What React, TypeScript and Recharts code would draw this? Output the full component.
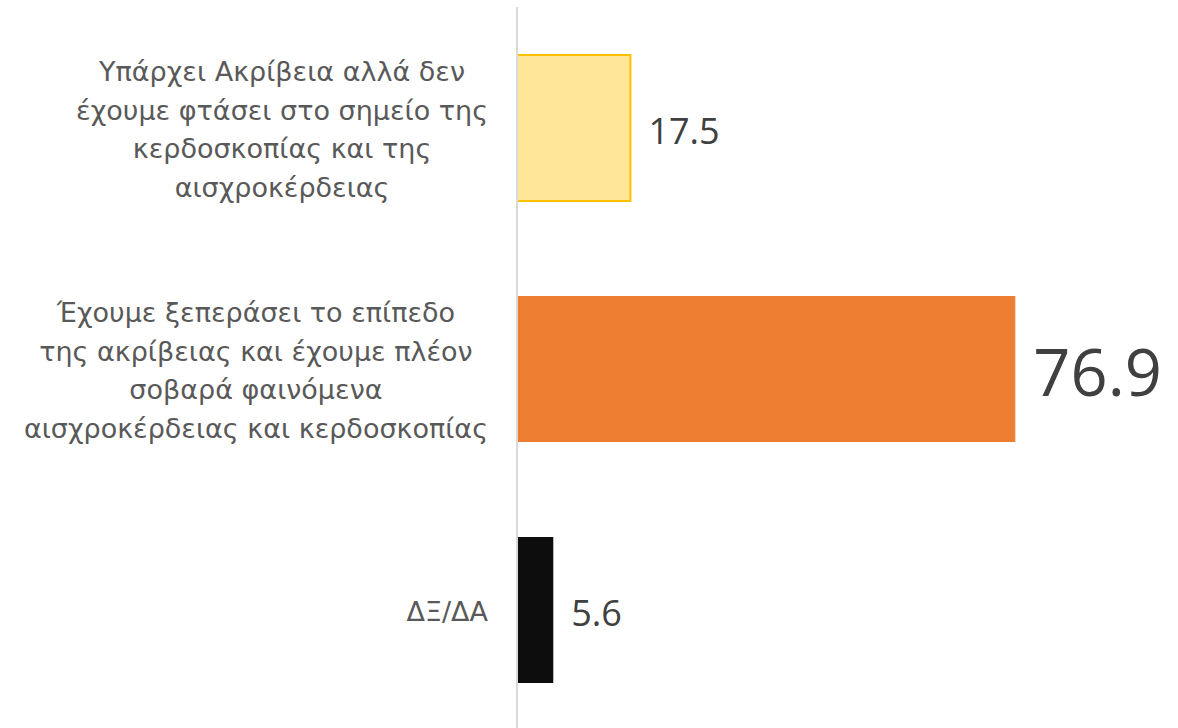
import React from 'react';
import { BarChart, Bar, XAxis, YAxis, Cell, LabelList } from 'recharts';

const categories = [
  'Υπάρχει Ακρίβεια αλλά δεν\nέχουμε φτάσει στο σημείο της\nκερδοσκοπίας και της\nαισχροκέρδειας',
  'Έχουμε ξεπεράσει το επίπεδο\nτης ακρίβειας και έχουμε πλέον\nσοβαρά φαινόμενα\nαισχροκέρδειας και κερδοσκοπίας',
  'ΔΞ/ΔΑ',
];
const values = [17.5, 76.9, 5.6];
const fills = ['#FFE699', '#ED7D31', '#0D0D0D'];
const strokes = ['#FFC000', 'none', 'none'];

const data = categories.map((name, i) => ({ name, value: values[i] }));

const LABEL_FONT = '"DejaVu Sans", sans-serif';
const LABEL_SIZE = 27;
const LINE_GAP = 38.5;
const LABEL_RIGHT = 488;

let ctx: CanvasRenderingContext2D | null = null;
const measure = (s: string) => {
  if (!ctx) ctx = document.createElement('canvas').getContext('2d');
  if (!ctx) return s.length * LABEL_SIZE * 0.55;
  ctx.font = `${LABEL_SIZE}px ${LABEL_FONT}`;
  return ctx.measureText(s).width;
};

const CategoryTick = (props: any) => {
  const { y, payload } = props;
  const lines: string[] = String(payload.value).split('\n');
  const maxW = Math.max(...lines.map(measure));
  const cx = LABEL_RIGHT - maxW / 2;
  const start = y + 2 - ((lines.length - 1) * LINE_GAP) / 2;
  return (
    <g>
      {lines.map((l, i) => (
        <text
          key={i}
          x={cx}
          y={start + i * LINE_GAP}
          textAnchor="middle"
          dominantBaseline="central"
          fill="#595959"
          fontSize={LABEL_SIZE}
          fontFamily={LABEL_FONT}
        >
          {l}
        </text>
      ))}
    </g>
  );
};

const ValueLabel = (props: any) => {
  const { x, y, width, height, value } = props;
  const big = value === Math.max(...values);
  return (
    <text
      x={x + width + 18}
      y={y + height / 2 + 2}
      dominantBaseline="central"
      fill="#404040"
      fontSize={big ? 65 : 36}
      fontFamily='"Open Sans", sans-serif'
    >
      {value}
    </text>
  );
};

export default function App() {
  return (
    <div style={{ position: 'absolute', left: 0, top: 0, width: 1178, height: 728, overflow: 'hidden', background: '#fff' }}>
      <BarChart
        width={1178}
        height={730}
        data={data}
        layout="vertical"
        margin={{ top: 7, right: 13, bottom: 0, left: 0 }}
      >
        <XAxis type="number" domain={[0, 100]} hide />
        <YAxis
          type="category"
          dataKey="name"
          width={517}
          axisLine={{ stroke: '#D9D9D9', strokeWidth: 2 }}
          tickLine={false}
          tick={<CategoryTick />}
          interval={0}
        />
        <Bar dataKey="value" barSize={146} isAnimationActive={false}>
          {data.map((d, i) => (
            <Cell key={i} fill={fills[i]} stroke={strokes[i]} strokeWidth={2} />
          ))}
          <LabelList dataKey="value" content={<ValueLabel />} />
        </Bar>
      </BarChart>
    </div>
  );
}
